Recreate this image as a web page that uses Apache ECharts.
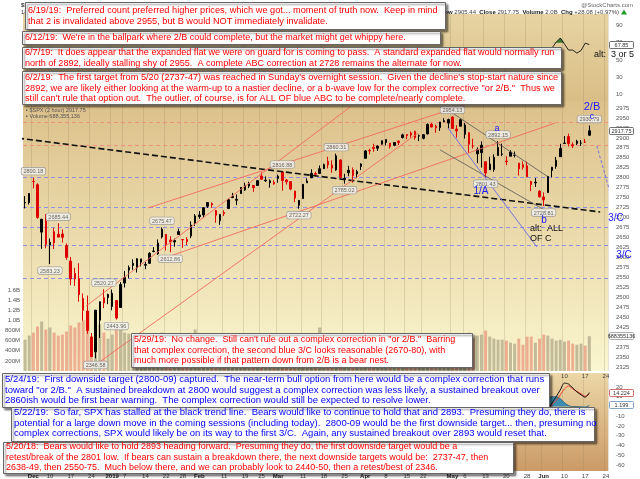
<!DOCTYPE html>
<html>
<head>
<meta charset="utf-8">
<title>$SPX 2 hour</title>
<script src="https://cdn.jsdelivr.net/npm/echarts@6.0.0/dist/echarts.min.js"></script>
<style>
html, body { margin: 0; padding: 0; background: #fff; }
#chart { width: 640px; height: 479px; }
</style>
</head>
<body>
<div id="chart"></div>
<script>
// trading days on the x axis (the last four are the empty room on the right)
var tradingDays = [
    ['2018-11', [29, 30]],
    ['2018-12', [3, 4, 6, 7, 10, 11, 12, 13, 14, 17, 18, 19, 20, 21, 24, 26, 27, 28, 31]],
    ['2019-01', [2, 3, 4, 7, 8, 9, 10, 11, 14, 15, 16, 17, 18, 22, 23, 24, 25, 28, 29, 30, 31]],
    ['2019-02', [1, 4, 5, 6, 7, 8, 11, 12, 13, 14, 15, 19, 20, 21, 22, 25, 26, 27, 28]],
    ['2019-03', [1, 4, 5, 6, 7, 8, 11, 12, 13, 14, 15, 18, 19, 20, 21, 22, 25, 26, 27, 28, 29]],
    ['2019-04', [1, 2, 3, 4, 5, 8, 9, 10, 11, 12, 15, 16, 17, 18, 22, 23, 24, 25, 26, 29, 30]],
    ['2019-05', [1, 2, 3, 6, 7, 8, 9, 10, 13, 14, 15, 16, 17, 20, 21, 22, 23, 24, 28, 29, 30, 31]],
    ['2019-06', [3, 4, 5, 6, 7, 10, 11, 12, 13, 14, 17, 18, 19, 20, 21, 24]]
];

// [open, close, low, high]
var ohlc = [
    [2736.97, 2737.80, 2722.94, 2753.75], [2737.76, 2760.17, 2732.76, 2760.88],
    [2790.50, 2790.37, 2773.38, 2800.18], [2782.43, 2700.06, 2697.18, 2785.93], [2663.51, 2695.95, 2621.53, 2696.15],
    [2691.26, 2633.08, 2623.14, 2708.54], [2630.86, 2637.72, 2583.23, 2647.51], [2664.44, 2636.78, 2621.30, 2674.35],
    [2658.23, 2651.07, 2650.26, 2685.44], [2658.70, 2650.54, 2637.27, 2670.19], [2629.68, 2599.95, 2593.84, 2635.07],
    [2590.75, 2545.94, 2530.54, 2601.13], [2559.90, 2546.16, 2528.71, 2573.99], [2547.05, 2506.96, 2488.96, 2585.29],
    [2496.77, 2467.42, 2441.18, 2509.63], [2465.38, 2416.62, 2408.55, 2504.41], [2400.56, 2351.10, 2351.10, 2410.34],
    [2363.12, 2467.70, 2346.58, 2467.76], [2442.50, 2488.83, 2397.94, 2489.10], [2498.77, 2485.74, 2472.89, 2520.27],
    [2498.94, 2506.85, 2482.82, 2509.24],
    [2476.96, 2510.03, 2467.47, 2519.49], [2491.92, 2447.89, 2443.96, 2493.14], [2474.33, 2531.94, 2474.33, 2538.07],
    [2535.61, 2549.69, 2524.56, 2566.16], [2568.11, 2574.41, 2547.56, 2579.82], [2580.00, 2584.96, 2568.89, 2595.32],
    [2573.51, 2596.64, 2562.02, 2597.82], [2588.11, 2596.26, 2577.40, 2596.27], [2580.31, 2582.61, 2570.41, 2589.32],
    [2585.10, 2610.30, 2585.10, 2613.08], [2614.75, 2616.10, 2612.68, 2625.76], [2609.28, 2635.96, 2606.36, 2645.06],
    [2651.27, 2670.71, 2647.58, 2675.47], [2657.88, 2632.90, 2617.27, 2657.88], [2643.48, 2638.70, 2612.86, 2653.19],
    [2638.84, 2642.33, 2627.01, 2647.20], [2657.44, 2664.76, 2657.33, 2672.38], [2644.97, 2643.85, 2624.06, 2644.97],
    [2644.89, 2640.00, 2631.05, 2650.93], [2653.62, 2681.05, 2648.34, 2690.44], [2685.49, 2704.10, 2678.65, 2708.95],
    [2702.32, 2706.53, 2696.88, 2716.66], [2706.49, 2724.87, 2698.75, 2724.99], [2728.34, 2737.70, 2724.03, 2738.98],
    [2735.05, 2731.61, 2724.15, 2738.08], [2717.53, 2706.05, 2687.26, 2719.32], [2692.36, 2707.88, 2681.83, 2708.07],
    [2712.40, 2709.80, 2703.79, 2718.05], [2722.61, 2744.73, 2722.61, 2748.19], [2750.30, 2753.03, 2748.63, 2761.85],
    [2743.50, 2745.73, 2731.23, 2757.90], [2760.24, 2775.60, 2760.24, 2775.66], [2769.28, 2779.76, 2767.29, 2787.33],
    [2779.05, 2784.70, 2774.06, 2789.88], [2780.67, 2774.88, 2764.55, 2781.58], [2780.67, 2792.67, 2779.11, 2794.20],
    [2804.35, 2796.11, 2794.99, 2813.49], [2792.36, 2793.90, 2789.47, 2803.12], [2787.50, 2792.38, 2775.13, 2795.76],
    [2788.11, 2784.49, 2782.51, 2793.73],
    [2798.22, 2803.69, 2787.38, 2808.02], [2814.37, 2792.81, 2767.66, 2816.88], [2794.41, 2789.65, 2782.97, 2796.44],
    [2790.27, 2771.45, 2768.69, 2790.27], [2766.53, 2748.93, 2739.09, 2767.25], [2730.79, 2743.07, 2722.27, 2744.13],
    [2747.61, 2783.30, 2747.61, 2784.00], [2787.34, 2791.52, 2786.73, 2798.32], [2799.78, 2810.92, 2799.78, 2821.24],
    [2810.38, 2808.48, 2803.46, 2815.00], [2810.79, 2822.48, 2810.79, 2830.73], [2822.61, 2832.94, 2821.99, 2835.41],
    [2840.76, 2832.57, 2823.27, 2852.42], [2831.34, 2824.23, 2812.43, 2843.54], [2819.72, 2854.88, 2817.38, 2860.31],
    [2844.52, 2800.71, 2800.47, 2846.16], [2796.01, 2798.36, 2785.02, 2809.79], [2812.66, 2818.46, 2803.99, 2829.87],
    [2819.72, 2805.37, 2787.72, 2825.56], [2809.40, 2815.44, 2798.77, 2819.71], [2828.27, 2834.40, 2819.23, 2836.03],
    [2848.63, 2867.19, 2848.63, 2869.40], [2868.24, 2867.24, 2858.75, 2872.90], [2876.09, 2873.40, 2865.17, 2885.25],
    [2873.99, 2879.39, 2867.14, 2881.28], [2884.16, 2892.74, 2882.99, 2893.24], [2888.46, 2895.77, 2880.78, 2895.95],
    [2886.58, 2878.20, 2873.33, 2886.88], [2881.37, 2888.21, 2879.13, 2889.71], [2891.92, 2888.32, 2881.99, 2893.42],
    [2900.86, 2907.41, 2898.37, 2910.54], [2908.32, 2905.58, 2896.48, 2909.60], [2912.26, 2907.06, 2900.71, 2916.06],
    [2916.04, 2900.45, 2895.45, 2918.00], [2904.81, 2905.03, 2891.90, 2908.40], [2898.78, 2907.97, 2896.35, 2909.51],
    [2909.99, 2933.68, 2908.53, 2936.31], [2934.00, 2927.25, 2926.05, 2936.83], [2928.99, 2926.17, 2912.84, 2933.10],
    [2925.81, 2939.88, 2917.56, 2939.88], [2940.58, 2943.03, 2939.35, 2949.52], [2937.14, 2945.83, 2924.11, 2948.22],
    [2952.33, 2923.73, 2923.36, 2954.13], [2922.16, 2917.52, 2900.50, 2931.68], [2929.21, 2945.64, 2929.21, 2947.85],
    [2908.89, 2932.47, 2898.21, 2937.32], [2913.03, 2884.05, 2862.60, 2913.03], [2879.61, 2879.42, 2873.28, 2897.96],
    [2859.84, 2870.72, 2836.40, 2875.97], [2863.10, 2881.40, 2825.39, 2891.31], [2840.19, 2811.87, 2801.43, 2840.19],
    [2820.12, 2834.41, 2820.12, 2852.54], [2820.38, 2850.96, 2815.08, 2858.68], [2855.80, 2876.32, 2855.80, 2892.15],
    [2858.60, 2859.53, 2854.23, 2885.48], [2841.94, 2840.23, 2831.29, 2853.86], [2854.02, 2864.36, 2854.02, 2868.88],
    [2856.06, 2856.27, 2851.11, 2865.47], [2836.70, 2822.24, 2805.49, 2836.70], [2832.41, 2826.06, 2820.19, 2841.36],
    [2830.03, 2802.39, 2801.58, 2840.51], [2790.25, 2783.02, 2766.06, 2792.03], [2786.94, 2788.86, 2776.74, 2799.00],
    [2766.15, 2752.06, 2750.52, 2768.98],
    [2751.53, 2744.45, 2728.81, 2763.07], [2762.64, 2803.27, 2762.64, 2804.49], [2818.09, 2826.15, 2800.92, 2827.28],
    [2828.51, 2843.49, 2822.45, 2852.10], [2852.87, 2873.34, 2852.87, 2884.97], [2885.83, 2886.73, 2885.51, 2904.77],
    [2903.27, 2885.72, 2878.53, 2910.61], [2882.73, 2879.84, 2874.68, 2888.57], [2886.24, 2891.64, 2881.99, 2895.24],
    [2886.82, 2886.98, 2879.62, 2894.45], [2889.75, 2889.67, 2887.30, 2897.27], [2906.71, 2917.75, 2905.44, 2930.79]
];

// volume per bar, millions
var volume = [
    620, 700,
    760, 880, 980, 820, 860, 760, 700, 720, 780, 900, 860, 960, 1000, 1050, 600, 900, 920, 760, 640,
    720, 860, 820, 760, 740, 700, 680, 600, 620, 640, 660, 640, 760, 700, 660, 620, 640, 620, 600, 720, 820,
    680, 600, 620, 560, 640, 580, 520, 560, 540, 600, 640, 560, 540, 560, 520, 580, 540, 560, 580,
    620, 660, 560, 580, 640, 700, 600, 580, 600, 560, 860, 560, 580, 600, 620, 740, 600, 560, 560, 520, 560,
    560, 500, 540, 500, 480, 460, 520, 480, 460, 520, 480, 500, 520, 560, 440, 520, 520, 540, 500, 500, 580,
    600, 620, 560, 680, 760, 640, 700, 720, 800, 680, 640, 620, 620, 600, 560, 540, 640, 520, 680, 680, 560, 640,
    720, 700, 640, 600, 620, 580, 600, 540, 520, 540, 500, 688.355136
];

// indicator panels: only the part that is not hidden behind the notes
var rsiDates = ['2019-06-04', '2019-06-05', '2019-06-06', '2019-06-07', '2019-06-10', '2019-06-11',
    '2019-06-12', '2019-06-13', '2019-06-14', '2019-06-17', '2019-06-18'];
var rsiValues = [56, 64, 70.5, 75.5, 68.5, 61.5, 61.5, 58, 61, 69.5, 67.85];

var macdDates = ['2019-06-03', '2019-06-04', '2019-06-05', '2019-06-06', '2019-06-07', '2019-06-10',
    '2019-06-11', '2019-06-12', '2019-06-13', '2019-06-14', '2019-06-17', '2019-06-18'];
var macdLine = [-8, -3, 3.5, 10, 17, 24, 23, 19, 15, 12, 9.5, 14.224];
var macdSignal = [-8, -4, 2, 6, 12, 18, 21, 18, 15.5, 13, 10.5, 13];
var macdHist = [3, 8, 10, 10, 8, 4, 1, 0, 0, -0.5, -1, 1.199];

// axis ticks
var priceTicks = [2325, 2350, 2375, 2400, 2425, 2450, 2475, 2500, 2525, 2550, 2575, 2600, 2625, 2650,
    2675, 2700, 2725, 2750, 2775, 2800, 2825, 2850, 2875, 2900, 2925, 2950, 2975];
var volumeTicks = [200, 400, 600, 800, 1000, 1200, 1400, 1600];
var rsiTicks = [10, 30, 50, 70, 90];
var macdTicks = [20, 10, 0, -10, -20, -30, -40, -50, -60];
var xLabels = {
    '2018-12-03': 'Dec', '2018-12-10': '10', '2018-12-17': '17', '2018-12-24': '24',
    '2019-01-02': '2019', '2019-01-07': '7', '2019-01-14': '14', '2019-01-22': '22', '2019-01-28': '28',
    '2019-02-01': 'Feb', '2019-02-11': '11', '2019-02-19': '19', '2019-02-25': '25',
    '2019-03-01': 'Mar', '2019-03-11': '11', '2019-03-18': '18', '2019-03-25': '25',
    '2019-04-01': 'Apr', '2019-04-08': '8', '2019-04-15': '15', '2019-04-22': '22',
    '2019-05-01': 'May', '2019-05-06': '6', '2019-05-13': '13', '2019-05-20': '20', '2019-05-28': '28',
    '2019-06-03': 'Jun', '2019-06-10': '10', '2019-06-17': '17', '2019-06-24': '24'
};

// labelled highs / lows: [date, price, side]
var priceTags = [
    ['2018-12-03', 2800.18, 'top'], ['2018-12-10', 2583.23, 'bottom'], ['2018-12-12', 2685.44, 'top'],
    ['2018-12-26', 2346.58, 'bottom'], ['2018-12-28', 2520.27, 'top'], ['2019-01-03', 2443.96, 'bottom'],
    ['2019-01-18', 2675.47, 'top'], ['2019-01-23', 2612.86, 'bottom'], ['2019-03-04', 2816.88, 'top'],
    ['2019-03-08', 2722.27, 'bottom'], ['2019-03-21', 2860.31, 'top'], ['2019-03-25', 2785.02, 'bottom'],
    ['2019-05-01', 2954.13, 'top'], ['2019-05-13', 2801.43, 'bottom'], ['2019-05-16', 2892.15, 'top'],
    ['2019-06-03', 2728.81, 'bottom'], ['2019-06-18', 2930.79, 'top']
];

// drawn lines, [bar index, price] (index 0 = 29 Nov)
var blackTrend = [[-6.0, 2905], [138.6, 2714]];
var redChannels = [
    [[29.6, 2724], [107.2, 2987]],
    [[32.0, 2593], [127.7, 2937]],
    [[14.7, 2478], [78.3, 2977]],
    [[16.9, 2330], [94.7, 2912]]
];
var grayChannels = [
    [[101.9, 2970], [125.8, 2804]],
    [[100.0, 2870], [126.0, 2714]]
];
var blueLines = [
    [[101.9, 2925], [123.4, 2626]],
    [[137.8, 2880], [145.3, 2606]]
];
var redLevels = [2938, 2882];
var blueLevels = [2800, 2727, 2676, 2631, 2548];
var rsiOverbought = 70;

var notes = [
    {color: '#ff0000', lines: [
        '6/19/19:  Preferred count preferred higher prices, which we got... moment of truth now.  Keep in mind',
        'that 2 is invalidated above 2955, but B would NOT immediately invalidate.']},
    {color: '#ff0000', lines: [
        "6/12/19:  We're in the ballpark where 2/B could complete, but the market might get whippy here."]},
    {color: '#ff0000', lines: [
        '6/7/19:  It does appear that the expanded flat we were on guard for is coming to pass.  A standard expanded flat would normally run',
        'north of 2892, ideally stalling shy of 2955.  A complete ABC correction at 2728 remains the alternate for now.']},
    {color: '#ff0000', lines: [
        "6/2/19:  The first target from 5/20 (2737-47) was reached in Sunday's overnight session.  Given the decline's stop-start nature since",
        '2892, we are likely either looking at the warm-up to a nastier decline, or a b-wave low for the complex corrective "or 2/B."  Thus we',
        "still can't rule that option out.  The outlier, of course, is for ALL OF blue ABC to be complete/nearly complete."]},
    {color: '#ff0000', lines: [
        '5/29/19:  No change.  Still can\'t rule out a complex correction in "or 2/B."  Barring',
        'that complex correction, the second blue 3/C looks reasonable (2670-80), with',
        'much more possible if that pattern down from 2/B is a bear nest.']},
    {color: '#0000ff', lines: [
        '5/24/19:  First downside target (2800-09) captured.  The near-term bull option from here would be a complex correction that runs',
        'toward "or 2/B."  A sustained breakdown at 2800 would suggest a complex correction was less likely, a sustained breakout over',
        '2860ish would be first bear warning.  The complex correction would still be expected to resolve lower.']},
    {color: '#0000ff', lines: [
        '5/22/19:  So far, SPX has stalled at the black trend line.  Bears would like to continue to hold that and 2893.  Presuming they do, there is',
        'potential for a large down move in the coming sessions (including today).  2800-09 would be the first downside target... then, presuming no',
        'complex corrections, SPX would likely be on its way to the first 3/C.  Again, any sustained breakout over 2893 would reset that.']},
    {color: '#ff0000', lines: [
        '5/20/18:  Bears would like to hold 2893 heading forward.  Presuming they do, the first downside target would be a',
        'retest/break of the 2801 low.  If bears can sustain a breakdown there, the next downside targets would be:  2737-47, then',
        '2638-49, then 2550-75.  Much below there, and we can probably look to 2440-50, then a retest/best of 2346.']}
];
// note boxes: x, y, width, height, centre of first line, font size
var noteFrames = [
    [25, 2, 420, 27, 10.5, 9.2],
    [22, 31, 418, 13, 37.5, 9],
    [22, 47, 539, 21, 52.5, 9.1],
    [22, 71, 539, 33, 77.5, 9.2],
    [131, 333, 341, 34, 340, 9],
    [2, 373, 547, 34, 379.5, 9.5],
    [11, 407, 583, 34, 412.5, 9.5],
    [3, 442, 510, 31, 447, 9]
];

var dates = [];
tradingDays.forEach(function(m) {
    m[1].forEach(function(d) {
        dates.push(m[0] + '-' + (d < 10 ? '0' + d : d));
    });
});
var lastIndex = dates.length - 1;
var months = {Dec: 1, '2019': 1, Feb: 1, Mar: 1, Apr: 1, May: 1, Jun: 1};

function tickFn(index, value) {
    return xLabels.hasOwnProperty(value);
}
function labelFn(value) {
    var t = xLabels[value] || '';
    return months[t] ? '{m|' + t + '}' : t;
}
function plain(v) {
    return String(v);
}

var FONT = '"Liberation Sans", Arial, sans-serif';
var gridLine = {color: 'rgba(140, 125, 90, 0.28)', width: 0.8};

function xCat(gridIndex, showLabels) {
    return {
        type: 'category', gridIndex: gridIndex, data: dates, boundaryGap: true,
        axisLine: {show: false}, axisTick: {show: false},
        axisLabel: {
            show: showLabels, interval: tickFn, formatter: labelFn, margin: 2,
            fontSize: 6, color: '#444', fontFamily: FONT,
            rich: {m: {fontSize: 6, fontWeight: 'bold', color: '#222', fontFamily: FONT}}
        },
        splitLine: {show: true, interval: tickFn, lineStyle: gridLine}
    };
}
function yRight(gridIndex, min, max, ticks) {
    return {
        type: 'value', gridIndex: gridIndex, position: 'right', min: min, max: max,
        axisLine: {show: false}, axisTick: {show: false}, splitLine: {show: false},
        axisLabel: {customValues: ticks, formatter: plain, fontSize: 6, color: '#555', margin: 8, fontFamily: FONT}
    };
}
function grad(top, bottom) {
    return new echarts.graphic.LinearGradient(0, 0, 0, 1, [
        {offset: 0, color: top}, {offset: 1, color: bottom}
    ]);
}

var volumeData = volume.map(function(v, i) {
    var down = ohlc[i][1] < ohlc[i][0];
    return {value: v, itemStyle: {color: down ? 'rgba(226, 118, 98, 0.55)' : 'rgba(150, 140, 112, 0.55)'}};
});
var tagData = priceTags.map(function(t) {
    return {value: [t[0], t[1]], label: {position: t[2]}};
});

function pairs(ds, vs) {
    return ds.map(function(d, i) { return [d, vs[i]]; });
}
function drawnLine(pts, color, width, type) {
    return {
        type: 'line', xAxisIndex: 3, yAxisIndex: 0, data: pts, symbol: 'none', clip: false,
        silent: true, z: 4, lineStyle: {color: color, width: width, type: type}
    };
}

var series = [
    {
        name: 'Volume', type: 'bar', xAxisIndex: 1, yAxisIndex: 1, data: volumeData,
        barWidth: 3, silent: true, z: 1
    },
    {
        name: '$SPX', type: 'candlestick', xAxisIndex: 1, yAxisIndex: 0, data: ohlc,
        barWidth: 2, silent: true, z: 3,
        itemStyle: {color: '#000', color0: '#e00000', borderColor: '#000', borderColor0: '#e00000', borderWidth: 1},
        markLine: {
            silent: true, symbol: ['none', 'none'], label: {show: false}, z: 2,
            data: redLevels.map(function(v) {
                return {yAxis: v, lineStyle: {color: '#f0907e', width: 1, type: [4, 3]}};
            }).concat(blueLevels.map(function(v) {
                return {yAxis: v, lineStyle: {color: '#9090e8', width: 1, type: [4, 3]}};
            }))
        }
    },
    drawnLine(blackTrend, '#111', 1.6, [6, 3])
];
redChannels.forEach(function(l) { series.push(drawnLine(l, '#f26a5e', 0.9, 'solid')); });
grayChannels.forEach(function(l) { series.push(drawnLine(l, '#555', 0.8, 'solid')); });
blueLines.forEach(function(l, i) { series.push(drawnLine(l, '#6a6ae8', 0.9, i ? [3, 2] : 'solid')); });
series.push({
    name: 'tags', type: 'scatter', xAxisIndex: 1, yAxisIndex: 0, data: tagData,
    symbolSize: 0, silent: true, z: 6,
    label: {
        show: true, distance: 3, fontSize: 5.5, color: '#444', fontFamily: FONT,
        formatter: function(p) { return p.value[1].toFixed(2); },
        backgroundColor: '#f1f1ef', borderColor: '#8c8c8c', borderWidth: 0.6, borderRadius: 2, padding: [1, 2, 0, 2]
    }
});
// overbought fill: the part of RSI above 70, stacked on the 70 level
series.push({
    name: 'RSI base', type: 'line', xAxisIndex: 0, yAxisIndex: 2, stack: 'ob',
    data: pairs(rsiDates, rsiDates.map(function() { return rsiOverbought; })),
    symbol: 'none', silent: true, lineStyle: {width: 0, opacity: 0}
});
series.push({
    name: 'RSI over', type: 'line', xAxisIndex: 0, yAxisIndex: 2, stack: 'ob',
    data: pairs(rsiDates, rsiValues.map(function(v) { return Math.max(v - rsiOverbought, 0); })),
    symbol: 'none', silent: true, lineStyle: {width: 0, opacity: 0},
    areaStyle: {color: '#3b7d2f', opacity: 1}
});
series.push({
    name: 'RSI', type: 'line', xAxisIndex: 0, yAxisIndex: 2, data: pairs(rsiDates, rsiValues),
    symbol: 'none', silent: true, z: 3, lineStyle: {color: '#111', width: 0.9}
});
series.push({
    name: 'Hist', type: 'line', xAxisIndex: 2, yAxisIndex: 3, data: pairs(macdDates, macdHist),
    symbol: 'none', smooth: 0.4, silent: true,
    lineStyle: {color: '#245e78', width: 0.8}, areaStyle: {color: '#3d8db0', opacity: 1}
});
series.push({
    name: 'Signal', type: 'line', xAxisIndex: 2, yAxisIndex: 3, data: pairs(macdDates, macdSignal),
    symbol: 'none', smooth: 0.3, silent: true, lineStyle: {color: '#f03a2a', width: 1}
});
series.push({
    name: 'MACD', type: 'line', xAxisIndex: 2, yAxisIndex: 3, data: pairs(macdDates, macdLine),
    symbol: 'none', smooth: 0.3, silent: true, lineStyle: {color: '#111', width: 1}
});

var option = {
    animation: false,
    backgroundColor: '#ffffff',
    grid: [
        {left: 23, right: 32, top: 14, height: 87, show: true, borderWidth: 0, backgroundColor: grad('#e7d4a3', '#d9bd86')},
        {left: 23, right: 32, top: 101, height: 270, show: true, borderWidth: 0, backgroundColor: grad('#dcc08a', '#faf6cf')},
        {left: 23, right: 32, top: 373, height: 98, show: true, borderWidth: 0, backgroundColor: grad('#ecd7a7', '#cb9a66')}
    ],
    xAxis: [
        xCat(0, false),
        xCat(1, true),
        xCat(2, true),
        {type: 'value', gridIndex: 1, min: -0.5, max: lastIndex + 0.5, show: false}
    ],
    yAxis: [
        yRight(1, 2315, 2992.5, priceTicks),
        {
            type: 'value', gridIndex: 1, position: 'left', min: 0, max: 5340,
            axisLine: {show: false}, axisTick: {show: false}, splitLine: {show: false},
            axisLabel: {
                customValues: volumeTicks, fontSize: 6, color: '#555', margin: 3, fontFamily: FONT,
                formatter: function(v) { return v >= 1000 ? (v / 1000).toFixed(1) + 'B' : v + 'M'; }
            }
        },
        yRight(0, 2.5, 103.3, rsiTicks),
        yRight(2, -66.15, 34.36, macdTicks)
    ],
    series: series
};

var chart = echarts.init(document.getElementById('chart'));
chart.setOption(option);

// ---- annotations ----
var g = [];
function text(x, y, str, font, fill, align) {
    g.push({
        type: 'text', x: x, y: y, z: 50, silent: true,
        style: {text: str, font: font, fill: fill, textAlign: align || 'left', textVerticalAlign: 'middle'}
    });
}
function axisTag(y, str, border) {
    g.push({
        type: 'rect', z: 60, silent: true, x: 609.5, y: Math.round(y) - 3.5,
        shape: {x: 0, y: 0, width: 24, height: 7, r: 1},
        style: {fill: '#ffffff', stroke: border, lineWidth: 0.7}
    });
    text(621.5, Math.round(y), str, '5.5px ' + FONT, '#333', 'center');
    g[g.length - 1].z = 61;
}

// header
text(21, 5, '$SPX S&P 500 Large Cap Index INDX', 'bold 6px ' + FONT, '#333');
text(21, 12, '18-Jun-2019 4:00pm   Open 2906.71   High 2930.79', '6px ' + FONT, '#333');
text(633, 5, '@StockCharts.com', '6px ' + FONT, '#666', 'right');
g.push({
    type: 'text', x: 619, y: 12, z: 50, silent: true,
    style: {
        text: '{b|Low} 2905.44  {b|Close} 2917.75  {b|Volume} 2.0B  {b|Chg} +28.08 (+0.97%)',
        font: '6px ' + FONT, fill: '#444', textAlign: 'right', textVerticalAlign: 'middle',
        rich: {b: {fontWeight: 'bold', fontSize: 6, fill: '#222', fontFamily: FONT}}
    }
});
g.push({
    type: 'polygon', z: 50, silent: true,
    shape: {points: [[621, 14.5], [627, 14.5], [624, 9.5]]},
    style: {fill: '#1f9a2a'}
});
text(26, 110, '\u25aa $SPX (2 hour) 2917.75', '5.5px ' + FONT, '#555');
text(26, 116, '\u25aa Volume 688,355,136', '5.5px ' + FONT, '#555');

// wave labels
var blue = '#1a1aff';
text(592, 107, '2/B', '11px ' + FONT, blue, 'center');
text(592, 117, 'c', '9px ' + FONT, blue, 'center');
text(497, 129, 'a', '9px ' + FONT, blue, 'center');
text(481, 191, '1/A', '10px ' + FONT, blue, 'center');
text(544, 220, 'b', '10px ' + FONT, blue, 'center');
text(616, 218, '3/C', '10px ' + FONT, blue, 'center');
text(624, 255, '3/C', '10px ' + FONT, blue, 'center');
text(530, 229, 'alt:  ALL', '9px ' + FONT, '#111');
text(530, 239, 'OF C', '9px ' + FONT, '#111');
text(594, 55, 'alt:  3 or 5', '9px ' + FONT, '#111');

// value tags on the right edge
axisTag(chart.convertToPixel({yAxisIndex: 0}, ohlc[ohlc.length - 1][1]), '2917.75', '#333');
axisTag(chart.convertToPixel({yAxisIndex: 1}, volume[volume.length - 1]), '688355136', '#888');
axisTag(chart.convertToPixel({yAxisIndex: 2}, rsiValues[rsiValues.length - 1]), '67.85', '#333');
axisTag(chart.convertToPixel({yAxisIndex: 3}, macdLine[macdLine.length - 1]), '14.224', '#c03030');
axisTag(chart.convertToPixel({yAxisIndex: 3}, macdHist[macdHist.length - 1]), '1.199', '#4a7fb0');

// comment boxes
notes.forEach(function(n, i) {
    var f = noteFrames[i];
    var lh = 10.5;
    g.push({
        type: 'rect', z: 100, silent: true, x: f[0] + 0.5, y: f[1] + 0.5,
        shape: {x: 0, y: 0, width: f[2], height: f[3]},
        style: {
            fill: '#ffffff', stroke: '#666', lineWidth: 1,
            shadowBlur: 2, shadowOffsetX: 2, shadowOffsetY: 2, shadowColor: 'rgba(0,0,0,0.45)'
        }
    });
    g.push({
        type: 'text', z: 101, silent: true, x: f[0] + 3, y: f[4] - lh / 2,
        style: {
            text: n.lines.join('\n'), font: f[5] + 'px ' + FONT, fill: n.color,
            lineHeight: lh, textAlign: 'left', textVerticalAlign: 'top'
        }
    });
});

chart.setOption({graphic: g});
</script>
</body>
</html>
